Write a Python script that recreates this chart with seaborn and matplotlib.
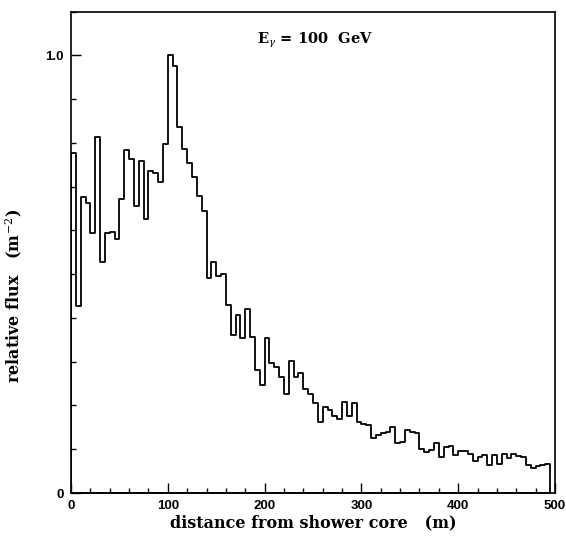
import numpy as np
import pandas as pd
import matplotlib
matplotlib.use("Agg")
import matplotlib.pyplot as plt
from matplotlib.ticker import MultipleLocator, FixedLocator
import seaborn as sns

# Lateral distribution: 5 m wide rings, flux normalised to the maximum
bin_width = 5.0
relative_flux = [
    0.776, 0.427, 0.677, 0.662, 0.595, 0.814, 0.527, 0.595, 0.596, 0.581,
    0.673, 0.785, 0.763, 0.655, 0.758, 0.627, 0.736, 0.731, 0.710, 0.797,
    1.000, 0.975, 0.836, 0.786, 0.754, 0.722, 0.678, 0.644, 0.491, 0.529,
    0.495, 0.500, 0.430, 0.362, 0.407, 0.354, 0.420, 0.356, 0.281, 0.246,
    0.354, 0.297, 0.287, 0.266, 0.226, 0.302, 0.266, 0.275, 0.238, 0.226,
    0.206, 0.163, 0.197, 0.190, 0.177, 0.170, 0.208, 0.177, 0.206, 0.162,
    0.157, 0.155, 0.126, 0.133, 0.137, 0.140, 0.150, 0.114, 0.117, 0.144,
    0.140, 0.137, 0.101, 0.093, 0.098, 0.114, 0.083, 0.105, 0.108, 0.087,
    0.097, 0.095, 0.088, 0.072, 0.083, 0.087, 0.064, 0.087, 0.066, 0.088,
    0.080, 0.090, 0.085, 0.082, 0.064, 0.057, 0.062, 0.064, 0.066,
]
x_ticks = [0, 100, 200, 300, 400, 500]
y_ticks = [0.0, 1.0]
y_tick_labels = ["0", "1.0"]

n_bins = len(relative_flux)
df = pd.DataFrame({
    "distance": (np.arange(n_bins) + 0.5) * bin_width,
    "flux": relative_flux,
})

sns.set_style("ticks")
plt.rcParams["mathtext.fontset"] = "dejavuserif"

fig = plt.figure(figsize=(5.66, 5.43), dpi=100)
ax = fig.add_axes([71 / 566, 50 / 543, 484 / 566, 481.3 / 543])

# Outline-only step histogram (closed down to zero at both ends)
sns.histplot(
    data=df, x="distance", weights="flux",
    binwidth=bin_width, binrange=(0, n_bins * bin_width),
    element="step", fill=True, color="black", ax=ax,
)
for coll in ax.collections:
    coll.set_facecolor((1, 1, 1, 0))
    coll.set_edgecolor("black")
    coll.set_linewidth(1.3)

ax.set_xlim(0, 500)
ax.set_ylim(0, 1.1)

for side in ["left", "right", "top", "bottom"]:
    ax.spines[side].set_visible(True)
    ax.spines[side].set_color("black")
    ax.spines[side].set_linewidth(1.2)

ax.xaxis.set_major_locator(FixedLocator(x_ticks))
ax.xaxis.set_minor_locator(MultipleLocator(20))
ax.yaxis.set_major_locator(FixedLocator(y_ticks))
ax.yaxis.set_minor_locator(MultipleLocator(0.1))
ax.set_xticklabels([str(t) for t in x_ticks])
ax.set_yticklabels(y_tick_labels)
ax.tick_params(which="major", direction="in", length=7, width=1.0,
               color="black", pad=5)
ax.tick_params(which="minor", direction="in", length=3.5, width=1.0,
               color="black")
for lab in ax.get_xticklabels() + ax.get_yticklabels():
    lab.set_fontfamily("Liberation Sans")
    lab.set_fontweight("bold")
    lab.set_fontsize(9.5)
    lab.set_color("black")

label_font = dict(family="DejaVu Serif", weight="bold", size=11.5, color="black")
ax.set_xlabel("distance from shower core   (m)", labelpad=2, **label_font)
ax.set_ylabel(r"relative flux   (m$^{-2}$)", **label_font)
ax.yaxis.set_label_coords(-0.098, 0.41)

ax.text(192, 1.035, r"E$_\gamma$ = 100  GeV", ha="left", va="center",
        family="DejaVu Serif", weight="bold", size=10.5, color="black")

fig.savefig("out.png", dpi=100, facecolor="white")
